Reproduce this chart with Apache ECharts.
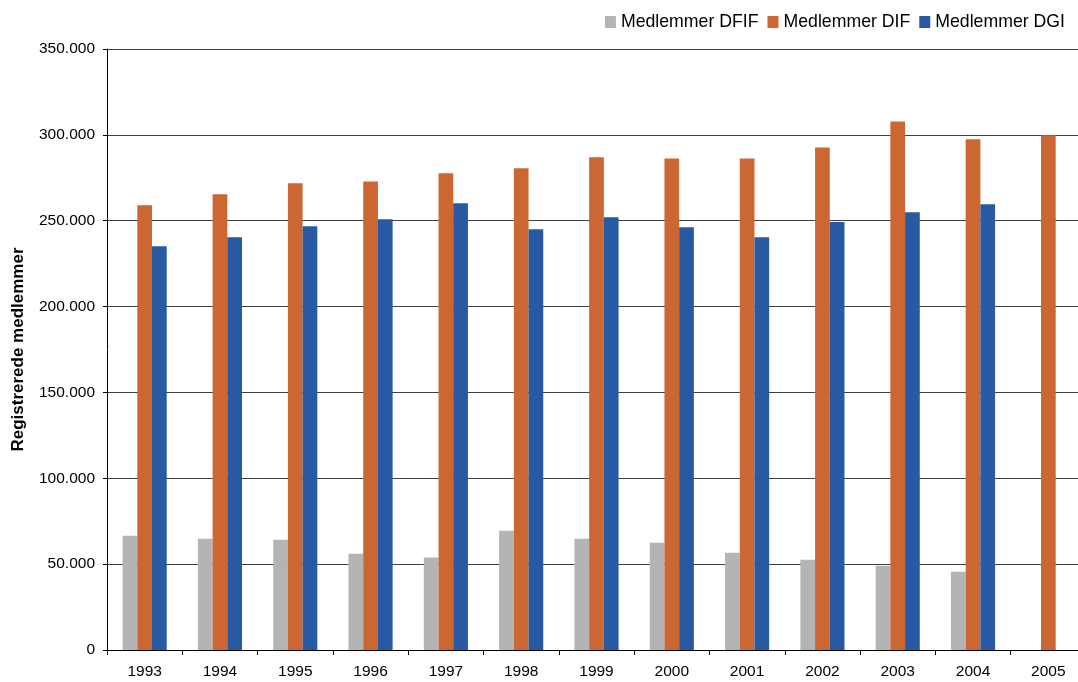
<!DOCTYPE html>
<html>
<head>
<meta charset="utf-8">
<script src="https://cdn.jsdelivr.net/npm/echarts@6/dist/echarts.min.js"></script>
<style>
    html, body { margin: 0; padding: 0; background: #fff; }
    #grafico { width: 1078px; height: 682px; }
</style>
</head>
<body>
<div id="grafico"></div>
<script>
var anos = ['1993', '1994', '1995', '1996', '1997', '1998', '1999', '2000', '2001', '2002', '2003', '2004', '2005'];
var medlemmerDFIF = [66600, 64800, 64200, 56100, 53800, 69500, 64800, 62500, 56700, 52600, 49100, 45600, '-'];
var medlemmerDIF = [259000, 265400, 271800, 272900, 277600, 280500, 286900, 286300, 286300, 292700, 307800, 297400, 299800];
var medlemmerDGI = [235200, 240400, 246800, 250900, 260200, 245100, 252000, 246200, 240400, 249300, 254900, 259600, '-'];
var nomesSeries = ['Medlemmer DFIF', 'Medlemmer DIF', 'Medlemmer DGI'];

window.addEventListener('load', start);

function start(){
    desenhaGrafico();
}

function formataNumero(valor){
    return String(valor).replace(/\B(?=(\d{3})+(?!\d))/g, '.');
}

function desenhaGrafico(){
    var myChart = echarts.init(document.getElementById('grafico'));
    var fonte = 'Liberation Sans, Arial, sans-serif';

    var option = {
        animation: false,
        textStyle: { fontFamily: fonte },
        legend: {
            data: nomesSeries,
            right: 8,
            top: 8,
            itemWidth: 11,
            itemHeight: 12,
            itemGap: 9,
            icon: 'rect',
            textStyle: { fontSize: 17.7, color: '#000' }
        },
        grid: {
            left: 107,
            top: 49,
            bottom: 32,
            width: 979,
            outerBoundsMode: 'none'
        },
        xAxis: {
            type: 'category',
            data: anos,
            axisLine: { lineStyle: { color: '#000', width: 1 } },
            axisTick: { show: true, length: 5, lineStyle: { color: '#000' } },
            axisLabel: { fontSize: 15.5, color: '#000', margin: 14 }
        },
        yAxis: {
            type: 'value',
            min: 0,
            max: 350000,
            interval: 50000,
            name: 'Registrerede medlemmer',
            nameLocation: 'middle',
            nameGap: 80,
            nameTextStyle: { fontSize: 17, fontWeight: 'bold', color: '#000' },
            axisLine: { show: true, lineStyle: { color: '#000', width: 1 } },
            axisTick: { show: true, length: 4, lineStyle: { color: '#000' } },
            axisLabel: {
                fontSize: 15.5,
                color: '#000',
                margin: 12,
                formatter: formataNumero
            },
            splitLine: { show: true, lineStyle: { color: '#404040', width: 1 } }
        },
        series: [
            {
                name: nomesSeries[0],
                type: 'bar',
                data: medlemmerDFIF,
                barWidth: 14.7,
                barGap: '0%',
                itemStyle: { color: '#b4b4b4' }
            },
            {
                name: nomesSeries[1],
                type: 'bar',
                data: medlemmerDIF,
                barWidth: 14.7,
                barGap: '0%',
                itemStyle: { color: '#cc6633' }
            },
            {
                name: nomesSeries[2],
                type: 'bar',
                data: medlemmerDGI,
                barWidth: 14.7,
                barGap: '0%',
                itemStyle: { color: '#275aa3' }
            }
        ]
    };

    myChart.setOption(option);
}
</script>
</body>
</html>
